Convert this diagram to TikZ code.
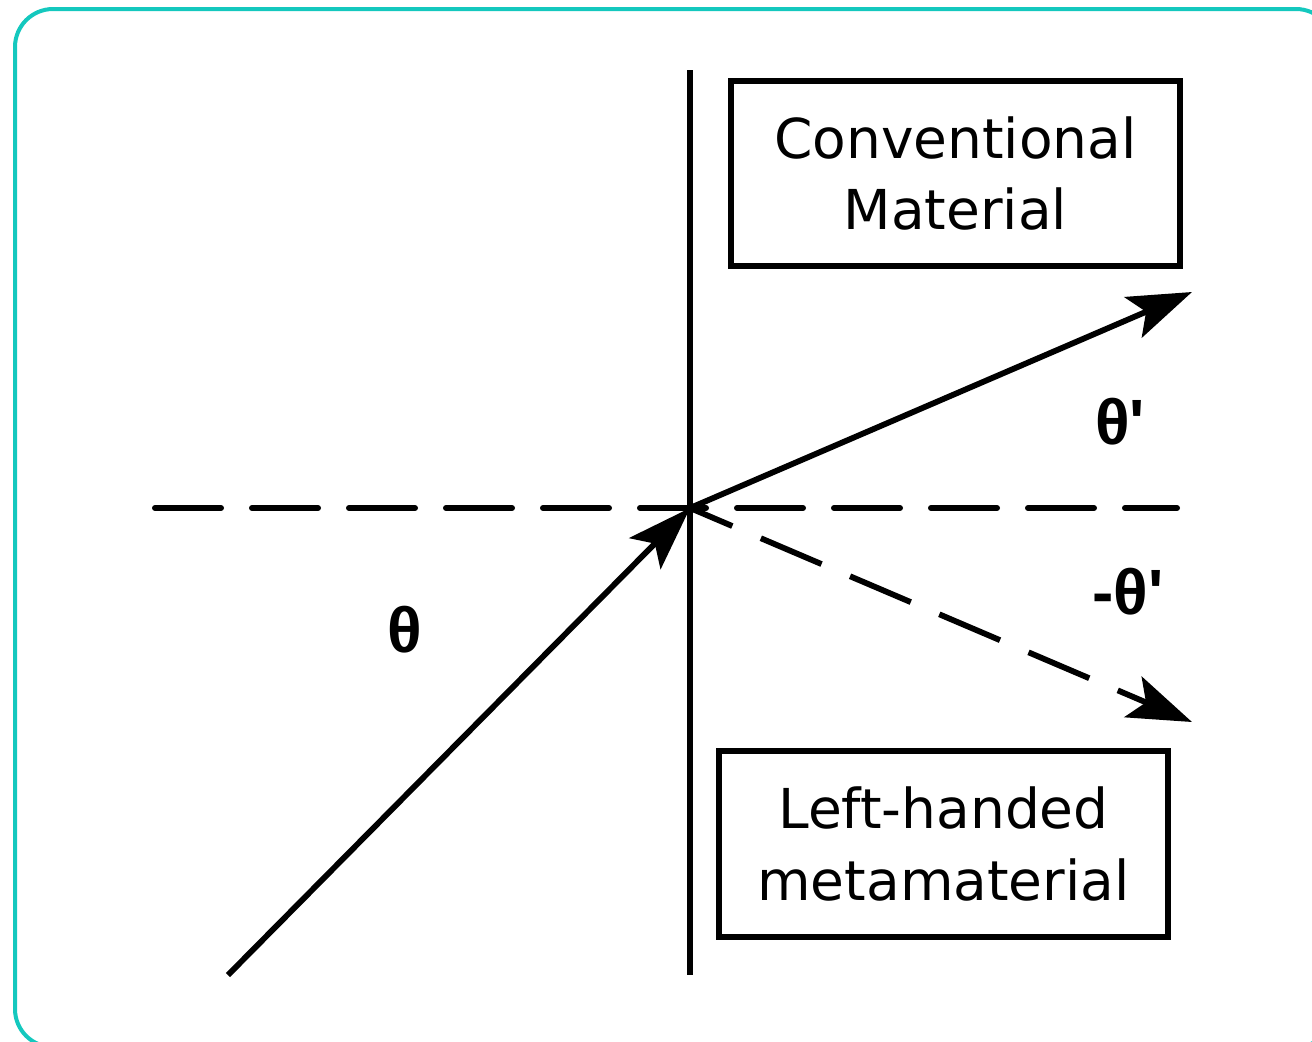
\documentclass[tikz,border=0pt]{standalone}
\usepackage{fontspec}
\setmainfont{DejaVu Sans}
\newfontfamily\anglefont{Liberation Sans}
\usetikzlibrary{arrows.meta}
\definecolor{framecol}{RGB}{20,200,190}

\tikzset{
  ray/.style={line width=2.9pt, -{Stealth[length=32pt,width=22pt,inset=7pt]}},
  axisdash/.style={line width=3pt, line cap=round, dash pattern=on 33pt off 15.5pt},
  medium/.style={draw, line width=3.2pt, align=center, inner sep=0pt,
    font=\fontsize{27.5pt}{35.75pt}\selectfont},
  anglelabel/.style={font=\anglefont\bfseries\fontsize{32pt}{32pt}\selectfont, inner sep=0pt}
}

\begin{document}
\begin{tikzpicture}[x=0.5pt,y=-0.5pt]
  \useasboundingbox (0,0) rectangle (1312,1041);
  \draw[framecol, line width=2pt, rounded corners=19pt] (15,9) rectangle (1334,1047);

  \coordinate (o) at (690,508);
  \coordinate (src) at (228,975);
  \coordinate (refr) at (1192,292);
  \coordinate (negr) at (1192,722);
  \coordinate (top) at (690,70);
  \coordinate (bot) at (690,975);
  \coordinate (nl) at (155,508);
  \coordinate (nr) at (1177,508);

  % interface and normal
  \draw[line width=3pt] (top) -- (bot);
  \draw[axisdash] (nl) -- (nr);

  % rays
  \draw[ray] (src) -- (o);
  \draw[ray] (o) -- (refr);
  \draw[ray, dash pattern=on 33pt off 15.5pt, dash phase=10pt] (o) -- (negr);

  % media
  \node[medium, minimum width=224.5pt, minimum height=92.5pt] (conv) at (955.5,173.5)
    {Conventional\\Material};
  \node[medium, minimum width=224.5pt, minimum height=93pt] (lhm) at (943.5,844)
    {Left-handed\\metamaterial};

  % angles
  \node[anglelabel] (th) at (405,630) {θ};
  \node[anglelabel] (thp) at (1120,422) {θ'};
  \node[anglelabel] (thn) at (1128,592) {-θ'};
\end{tikzpicture}
\end{document}
